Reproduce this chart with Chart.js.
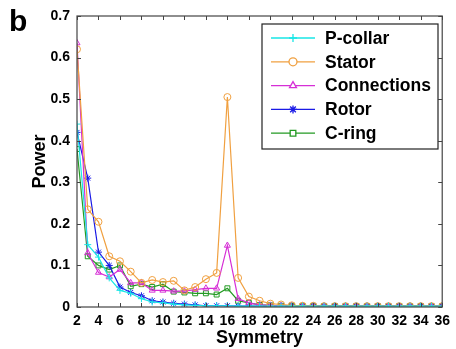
<!DOCTYPE html>
<html>
<head>
<meta charset="utf-8">
<script src="https://cdn.jsdelivr.net/npm/chart.js@4.4.0/dist/chart.umd.min.js"></script>
<style>
  html, body { margin: 0; padding: 0; background: #fff; }
  #wrap { width: 456px; height: 349px; position: relative; }
</style>
</head>
<body>
<div id="wrap"><canvas id="powerChart" width="456" height="349"></canvas></div>
<script>
// ---- data ----
const symmetry = [2,3,4,5,6,7,8,9,10,11,12,13,14,15,16,17,18,19,20,21,22,23,24,25,26,27,28,29,30,31,32,33,34,35,36];
const seriesNames = ["P-collar", "Stator", "Connections", "Rotor", "C-ring"];

const pCollar = [0.44,0.15,0.12,0.07,0.04,0.033,0.02,0.012,0.01,0.007,0.005,0.004,0.003,0.003,0.003,0.002,0.002,0.002,0.002,0.002,0.002,0.002,0.002,0.002,0.002,0.002,0.002,0.002,0.002,0.002,0.002,0.002,0.002,0.002,0.002];
const stator = [0.62,0.235,0.205,0.122,0.11,0.085,0.058,0.065,0.06,0.063,0.04,0.048,0.067,0.082,0.505,0.07,0.025,0.015,0.008,0.006,0.004,0.003,0.003,0.002,0.002,0.002,0.002,0.002,0.002,0.002,0.002,0.002,0.002,0.002,0.002];
const connections = [0.635,0.13,0.083,0.072,0.09,0.058,0.058,0.04,0.04,0.038,0.038,0.042,0.045,0.045,0.148,0.02,0.01,0.005,0.004,0.003,0.003,0.002,0.002,0.002,0.002,0.002,0.002,0.002,0.002,0.002,0.002,0.002,0.002,0.002,0.002];
const rotor = [0.42,0.31,0.132,0.10,0.048,0.035,0.027,0.015,0.012,0.009,0.007,0.005,0.003,0.003,0.003,0.002,0.002,0.002,0.002,0.002,0.002,0.002,0.002,0.002,0.002,0.002,0.002,0.002,0.002,0.002,0.002,0.002,0.002,0.002,0.002];
const cRing = [0.38,0.122,0.10,0.09,0.10,0.05,0.055,0.048,0.055,0.037,0.035,0.033,0.033,0.03,0.045,0.015,0.01,0.005,0.004,0.003,0.003,0.002,0.002,0.002,0.002,0.002,0.002,0.002,0.002,0.002,0.002,0.002,0.002,0.002,0.002];

const xTicks = [2,4,6,8,10,12,14,16,18,20,22,24,26,28,30,32,34,36];
const yTicks = [0,0.1,0.2,0.3,0.4,0.5,0.6,0.7];

const colors = ["#19e6e6", "#f0a040", "#d62fd6", "#1a1ae6", "#239a23"];
const markers = ["cross", "circle", "triangle", "star", "rect"];
const allValues = [pCollar, stator, connections, rotor, cRing];

const FONT = "'Liberation Sans', Arial, sans-serif";
const AXIS_COLOR = "#444";

function toPoints(vals) {
  return vals.map((v, i) => ({ x: symmetry[i], y: v }));
}

// frame, inward ticks, legend and panel letter
const decorPlugin = {
  id: "decor",
  afterDatasetsDraw(chart) {
    const { ctx, chartArea: a, scales } = chart;
    ctx.save();
    ctx.strokeStyle = AXIS_COLOR;
    ctx.lineWidth = 1.2;
    ctx.strokeRect(a.left, a.top, a.right - a.left, a.bottom - a.top);

    // inward ticks on all 4 sides
    ctx.lineWidth = 1;
    ctx.beginPath();
    xTicks.forEach(t => {
      const px = Math.round(scales.x.getPixelForValue(t)) + 0.5;
      ctx.moveTo(px, a.bottom); ctx.lineTo(px, a.bottom - 4);
      ctx.moveTo(px, a.top); ctx.lineTo(px, a.top + 4);
    });
    yTicks.forEach(t => {
      const py = Math.round(scales.y.getPixelForValue(t)) + 0.5;
      ctx.moveTo(a.left, py); ctx.lineTo(a.left + 4, py);
      ctx.moveTo(a.right, py); ctx.lineTo(a.right - 4, py);
    });
    ctx.stroke();

    // legend box
    const lx = 262, ly = 24, lw = 176, lh = 125;
    ctx.fillStyle = "#fff";
    ctx.fillRect(lx, ly, lw, lh);
    ctx.strokeStyle = "#222";
    ctx.lineWidth = 1.2;
    ctx.strokeRect(lx, ly, lw, lh);
    ctx.textBaseline = "middle";
    seriesNames.forEach((name, i) => {
      const y = ly + 14 + i * 23.8;
      ctx.strokeStyle = colors[i];
      ctx.lineWidth = 1.3;
      ctx.beginPath();
      ctx.moveTo(lx + 9, y); ctx.lineTo(lx + 53, y);
      ctx.stroke();
      ctx.fillStyle = "#fff";
      Chart.helpers.drawPoint(ctx, {
        pointStyle: markers[i], radius: 4, rotation: 0, borderWidth: 1.2
      }, lx + 31, y);
      ctx.fillStyle = "#000";
      ctx.font = "bold 17.5px " + FONT;
      ctx.fillText(name, lx + 63, y + 1);
    });

    // panel letter
    ctx.fillStyle = "#000";
    ctx.font = "bold 30px " + FONT;
    ctx.textBaseline = "alphabetic";
    ctx.fillText("b", 9, 31);
    ctx.restore();
  }
};

new Chart(document.getElementById("powerChart"), {
  type: "line",
  data: {
    datasets: seriesNames.map((name, i) => ({
      label: name,
      data: toPoints(allValues[i]),
      borderColor: colors[i],
      backgroundColor: "rgba(255,255,255,0)",
      pointBorderColor: colors[i],
      pointBackgroundColor: "rgba(255,255,255,0)",
      pointStyle: markers[i],
      pointRadius: 3.5,
      pointBorderWidth: 1,
      borderWidth: 1.2,
      tension: 0,
      fill: false
    }))
  },
  options: {
    responsive: false,
    animation: false,
    layout: { padding: { left: 0, right: 10, top: 16, bottom: 0 } },
    plugins: { legend: { display: false }, tooltip: { enabled: false } },
    scales: {
      x: {
        type: "linear",
        min: 2, max: 36,
        afterBuildTicks: s => { s.ticks = xTicks.map(v => ({ value: v })); },
        afterFit: s => { s.height = 42; },
        grid: { display: false, drawTicks: false },
        border: { display: false },
        ticks: { padding: 6, color: "#000", font: { family: FONT, size: 14, weight: "bold" }, maxRotation: 0, autoSkip: false },
        title: { display: true, text: "Symmetry", color: "#000", padding: { top: 0, bottom: 0 }, font: { family: FONT, size: 18, weight: "bold" } }
      },
      y: {
        min: 0, max: 0.7,
        afterBuildTicks: s => { s.ticks = yTicks.map(v => ({ value: v })); },
        afterFit: s => { s.width = 77; },
        grid: { display: false, drawTicks: false },
        border: { display: false },
        ticks: { padding: 7, color: "#000", font: { family: FONT, size: 14, weight: "bold" } },
        title: { display: true, text: "Power", color: "#000", padding: { top: 29, bottom: 0 }, font: { family: FONT, size: 18, weight: "bold" } }
      }
    }
  },
  plugins: [decorPlugin]
});
</script>
</body>
</html>
